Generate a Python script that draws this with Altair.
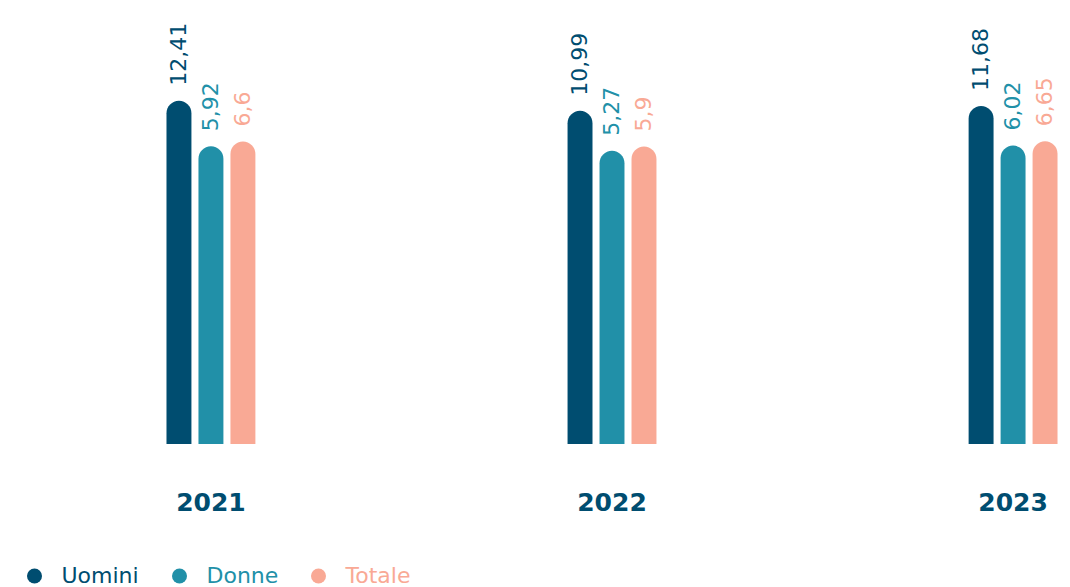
import altair as alt
import pandas as pd

years = ["2021", "2022", "2023"]
series = ["Uomini", "Donne", "Totale"]
uomini = [12.41, 10.99, 11.68]
donne = [5.92, 5.27, 6.02]
totale = [6.6, 5.9, 6.65]
colors = ["#004d70", "#2190a8", "#f9a995"]

rows = []
for s, vals in zip(series, [uomini, donne, totale]):
    for y, v in zip(years, vals):
        rows.append({"year": y, "series": s, "value": v,
                     "label": str(v).replace(".", ",")})
df = pd.DataFrame(rows)

FONT = "DejaVu Sans"
BASE = -36.55
TOP = 25.65

color_enc = alt.Color(
    "series:N",
    sort=series,
    scale=alt.Scale(domain=series, range=colors),
    legend=alt.Legend(
        title=None, orient="none", legendX=15.5, legendY=557,
        direction="horizontal", columns=3, padding=0,
        symbolType="circle", symbolSize=225, symbolStrokeWidth=0,
        symbolOpacity=1, labelFont=FONT, labelFontSize=22,
        labelOffset=16, columnPadding=29,
        labelColor=alt.ExprRef(
            "datum.value === 'Uomini' ? '#004d70' : (datum.value === 'Donne' ? '#2190a8' : '#f9a995')"
        ),
    ),
)

base = alt.Chart(df).encode(
    x=alt.X(
        "year:N", sort=years, title=None,
        scale=alt.Scale(paddingInner=0.756, paddingOuter=0.192, align=1),
        axis=alt.Axis(labelAngle=0, domain=False, ticks=False, labelPadding=46,
                      labelFont=FONT, labelFontSize=25, labelFontWeight="bold",
                      labelColor="#004d70"),
    ),
    xOffset=alt.XOffset("series:N", sort=series,
                        scale=alt.Scale(paddingInner=0.22, paddingOuter=0.14)),
    color=color_enc,
)

bars = base.mark_bar(cornerRadiusTopLeft=12.5, cornerRadiusTopRight=12.5).encode(
    y=alt.Y("value:Q", scale=alt.Scale(domain=[BASE, TOP], nice=False, zero=False),
            axis=None),
    y2=alt.datum(BASE),
)

labels = base.mark_text(angle=270, align="left", baseline="middle", dx=15,
                        font=FONT, fontSize=22).encode(
    y=alt.Y("value:Q", scale=alt.Scale(domain=[BASE, TOP], nice=False, zero=False),
            axis=None),
    text="label:N",
)

chart = alt.layer(bars, labels).properties(
    width=1054, height=436, background="white", padding=0
).configure_view(stroke=None)

chart.save("out.html", embed_options={"renderer": "svg", "actions": False})
